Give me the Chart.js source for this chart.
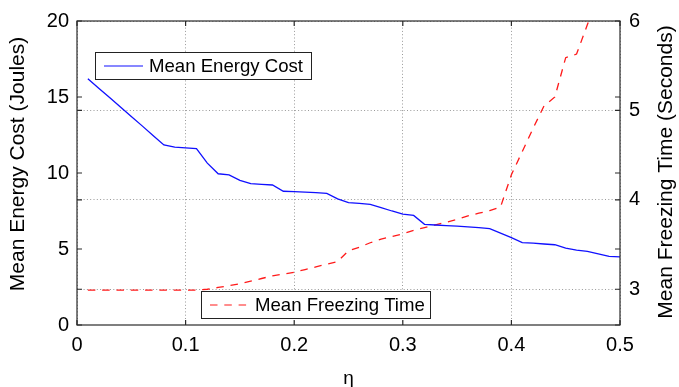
<!DOCTYPE html>
<html>
<head>
<meta charset="utf-8">
<script src="https://cdn.jsdelivr.net/npm/chart.js@4"></script>
<style>
  html, body { margin: 0; padding: 0; background: #fff; }
</style>
</head>
<body>
<canvas id="myChart" width="679" height="387"></canvas>
<script>
// 데이터
const eta = [0.01, 0.02, 0.03, 0.04, 0.05, 0.06, 0.07, 0.08, 0.09, 0.10,
  0.11, 0.12, 0.13, 0.14, 0.15, 0.16, 0.17, 0.18, 0.19, 0.20,
  0.21, 0.22, 0.23, 0.24, 0.25, 0.26, 0.27, 0.28, 0.29, 0.30,
  0.31, 0.32, 0.33, 0.34, 0.35, 0.36, 0.37, 0.38, 0.39, 0.40,
  0.41, 0.42, 0.43, 0.44, 0.45, 0.46, 0.47, 0.48, 0.49, 0.50];
const energyCost = [16.2, 15.57, 14.96, 14.34, 13.72, 13.1, 12.47, 11.85, 11.7, 11.65,
  11.6, 10.65, 9.95, 9.88, 9.52, 9.3, 9.25, 9.21, 8.8, 8.77,
  8.74, 8.71, 8.66, 8.3, 8.05, 8.0, 7.93, 7.72, 7.5, 7.3,
  7.21, 6.62, 6.58, 6.54, 6.5, 6.45, 6.4, 6.34, 6.05, 5.75,
  5.42, 5.38, 5.33, 5.28, 5.05, 4.92, 4.85, 4.68, 4.52, 4.48];
const freezingTime = [2.99, 2.99, 2.99, 2.99, 2.99, 2.99, 2.99, 2.99, 2.99, 2.99,
  2.99, 3.0, 3.02, 3.04, 3.06, 3.09, 3.12, 3.15, 3.17, 3.19,
  3.22, 3.25, 3.28, 3.31, 3.43, 3.47, 3.52, 3.56, 3.59, 3.62,
  3.66, 3.69, 3.72, 3.75, 3.78, 3.82, 3.85, 3.88, 3.92, 4.28,
  4.54, 4.8, 5.05, 5.15, 5.59, 5.63, 5.96, 6.3, 6.6, 6.9];
const xTicks = [0, 0.1, 0.2, 0.3, 0.4, 0.5];
const leftTicks = [0, 5, 10, 15, 20];
const rightTicks = [3, 4, 5, 6];

const FONT = '"Liberation Sans", Arial, sans-serif';
Chart.defaults.font.family = FONT;
Chart.defaults.color = "#000";

const BLUE = "#1010ff";
const RED = "#ff1a1a";
const RED_DASH = [7.5, 6.8];
const GRID = "#999";
const AXIS = "#2a2a2a";

// 축, 범례, 제목 그리기
const matlabLook = {
  id: "matlabLook",
  afterDraw(chart) {
    const { ctx, chartArea: a, scales } = chart;
    const tick = 5;
    ctx.save();

    // 범례 박스
    const legend = (x, y, w, h, color, dash, label) => {
      ctx.fillStyle = "#fff";
      ctx.fillRect(x, y, w, h);
      ctx.strokeStyle = "#222";
      ctx.lineWidth = 1;
      ctx.setLineDash([]);
      ctx.strokeRect(x + 0.5, y + 0.5, w, h);
      ctx.strokeStyle = color;
      ctx.lineWidth = 1.2;
      ctx.setLineDash(dash);
      ctx.beginPath();
      ctx.moveTo(x + 9, y + h / 2 + 0.5);
      ctx.lineTo(x + 48, y + h / 2 + 0.5);
      ctx.stroke();
      ctx.setLineDash([]);
      ctx.fillStyle = "#000";
      ctx.font = "18.6px " + FONT;
      ctx.textBaseline = "middle";
      ctx.textAlign = "left";
      ctx.fillText(label, x + 54, y + h / 2 + 1);
    };
    legend(95, 52, 216, 27, BLUE, [], "Mean Energy Cost");
    legend(201, 291, 229, 27, RED, RED_DASH, "Mean Freezing Time");

    // 상자와 안쪽 눈금
    ctx.strokeStyle = AXIS;
    ctx.lineWidth = 1.2;
    ctx.strokeRect(a.left, a.top, a.right - a.left, a.bottom - a.top);
    ctx.beginPath();
    xTicks.forEach((v) => {
      const px = scales.x.getPixelForValue(v);
      ctx.moveTo(px, a.bottom); ctx.lineTo(px, a.bottom - tick);
      ctx.moveTo(px, a.top); ctx.lineTo(px, a.top + tick);
    });
    leftTicks.forEach((v) => {
      const py = scales.y.getPixelForValue(v);
      ctx.moveTo(a.left, py); ctx.lineTo(a.left + tick, py);
      ctx.moveTo(a.right, py); ctx.lineTo(a.right - tick, py);
    });
    rightTicks.forEach((v) => {
      const py = scales.y2.getPixelForValue(v);
      ctx.moveTo(a.left, py); ctx.lineTo(a.left + tick, py);
      ctx.moveTo(a.right, py); ctx.lineTo(a.right - tick, py);
    });
    ctx.stroke();

    // y축 제목 (둘 다 아래에서 위로)
    ctx.fillStyle = "#000";
    ctx.font = "21px " + FONT;
    ctx.textAlign = "center";
    ctx.textBaseline = "middle";
    const vTitle = (x, y, text) => {
      ctx.save();
      ctx.translate(x, y);
      ctx.rotate(-Math.PI / 2);
      ctx.fillText(text, 0, 0);
      ctx.restore();
    };
    vTitle(18, 164, "Mean Energy Cost (Joules)");
    vTitle(666, 172, "Mean Freezing Time (Seconds)");
    ctx.restore();
  },
};

const ctx = document.getElementById("myChart").getContext("2d");
const myChart = new Chart(ctx, {
  type: "line",
  data: {
    datasets: [
      {
        label: "Mean Energy Cost",
        data: eta.map((x, i) => ({ x, y: energyCost[i] })),
        borderColor: BLUE,
        borderWidth: 1.3,
        pointRadius: 0,
        tension: 0,
        yAxisID: "y",
      },
      {
        label: "Mean Freezing Time",
        data: eta.map((x, i) => ({ x, y: freezingTime[i] })),
        borderColor: RED,
        borderWidth: 1.3,
        borderDash: RED_DASH,
        pointRadius: 0,
        tension: 0,
        yAxisID: "y2",
      },
    ],
  },
  options: {
    responsive: false,
    animation: false,
    devicePixelRatio: 1,
    layout: { padding: { top: 20, left: 0, right: 0, bottom: 0 } },
    plugins: { legend: { display: false }, tooltip: { enabled: false } },
    scales: {
      x: {
        type: "linear",
        position: "bottom",
        min: 0,
        max: 0.5,
        afterBuildTicks: (s) => { s.ticks = xTicks.map((v) => ({ value: v })); },
        afterFit: (s) => { s.height = 62; },
        ticks: {
          font: { size: 20 },
          padding: 8,
          callback: (v) => (v === 0 ? "0" : v.toFixed(1)),
        },
        grid: { color: GRID, lineWidth: 1, drawTicks: false },
        border: { display: false, dash: [1, 2.3] },
        title: { display: true, text: "η", font: { size: 19 }, padding: { top: 0, bottom: -3 } },
      },
      y: {
        type: "linear",
        position: "left",
        min: 0,
        max: 20,
        afterBuildTicks: (s) => { s.ticks = leftTicks.map((v) => ({ value: v })); },
        afterFit: (s) => { s.width = 77; },
        ticks: { font: { size: 20 }, padding: 8 },
        grid: { drawOnChartArea: false, drawTicks: false },
        border: { display: false },
      },
      y2: {
        type: "linear",
        position: "right",
        min: 2.6,
        max: 6,
        afterBuildTicks: (s) => { s.ticks = rightTicks.map((v) => ({ value: v })); },
        afterFit: (s) => { s.width = 59; },
        ticks: { font: { size: 20 }, padding: 9 },
        grid: { color: GRID, lineWidth: 1, drawTicks: false },
        border: { display: false, dash: [1, 2.3] },
      },
    },
  },
  plugins: [matlabLook],
});
</script>
</body>
</html>
